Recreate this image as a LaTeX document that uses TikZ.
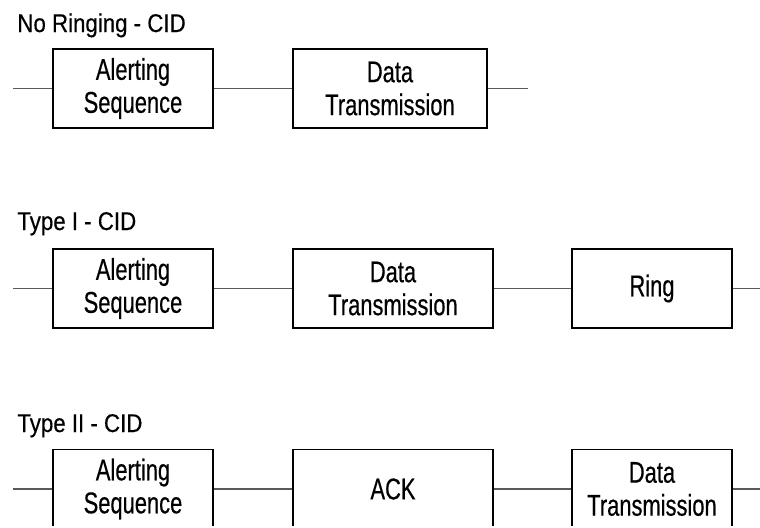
\documentclass[tikz,border=0pt]{standalone}
\usepackage{fontspec}
\setmainfont{Liberation Sans}
\newfontfamily\boxfont[FakeStretch=0.73,FakeBold=0.4]{Liberation Sans}
\newfontfamily\titlefont[FakeStretch=0.87,FakeBold=0.4]{Liberation Sans}
\usetikzlibrary{positioning}

\begin{document}
\begin{tikzpicture}[x=0.5pt, y=-0.5pt,
  blk/.style={draw, line width=0.6pt, inner sep=0pt, minimum height=39.5pt,
    align=center, font=\boxfont\fontsize{15}{16.5}\selectfont},
  wire/.style={draw=black!65, line width=0.65pt},
  hdr/.style={anchor=base west, inner sep=0pt,
    font=\titlefont\fontsize{12.8}{14}\selectfont}]
\useasboundingbox (0,0) rectangle (760,527);
\clip (0,0) rectangle (760,525.5);
% No ringing
\node[hdr] (t1) at (17,32) {No Ringing - CID};
\node[blk, minimum width=80pt] (a1) at (133,88.5) {Alerting\\Sequence};
\node[blk, minimum width=97pt] (d1) at (390,88.5) {Data\\Transmission};
\coordinate (l1) at (13,88.5);
\coordinate (r1) at (528,88.5);
\draw[wire] (l1) -- (a1) -- (d1) -- (r1);
% Type I
\node[hdr] (t2) at (17,230) {Type I - CID};
\node[blk, minimum width=80pt] (a2) at (133,288.5) {Alerting\\Sequence};
\node[blk, minimum width=100pt] (d2) at (393,288.5) {Data\\Transmission};
\node[blk, minimum width=80pt] (g2) at (652,288.5) {Ring};
\coordinate (l2) at (13,288.5);
\coordinate (r2) at (760,288.5);
\draw[wire] (l2) -- (a2) -- (d2) -- (g2) -- (r2);
% Type II
\node[hdr] (t3) at (17,432) {Type II - CID};
\node[blk, minimum width=80pt] (a3) at (133,489) {Alerting\\Sequence};
\node[blk, minimum width=100pt] (k3) at (393,489) {ACK};
\node[blk, minimum width=80pt] (d3) at (652,489) {Data\\Transmission};
\coordinate (l3) at (13,489);
\coordinate (r3) at (760,489);
\draw[wire] (l3) -- (a3) -- (k3) -- (d3) -- (r3);
\end{tikzpicture}
\end{document}
